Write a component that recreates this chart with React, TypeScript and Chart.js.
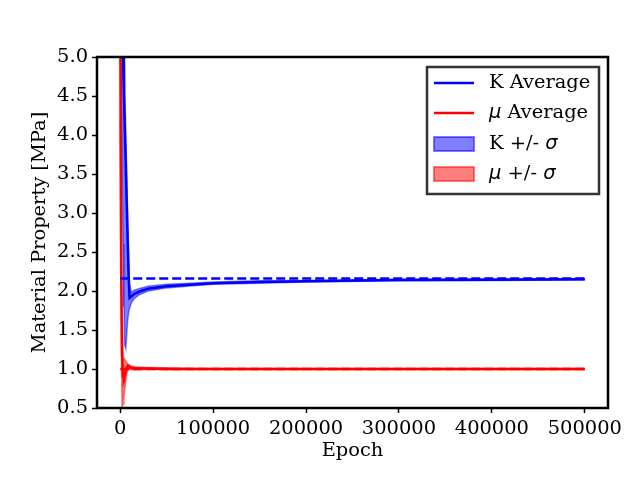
import { Chart, registerables } from "chart.js";
import type { ChartConfiguration, Plugin } from "chart.js";
import React from "react";

Chart.register(...registerables);

// epochs sampled from the curves
const epochs = [
  0, 1000, 2000, 3000, 4000, 5000, 6000, 7000, 8000, 9000, 10000, 12000, 15000,
  20000, 30000, 50000, 75000, 100000, 150000, 200000, 300000, 400000, 500000,
];

const kMean = [
  6.8, 6.0, 5.4, 5.0, 4.5, 4.05, 3.6, 3.1, 2.65, 2.2, 1.91, 1.93, 1.96, 1.99,
  2.03, 2.06, 2.08, 2.1, 2.115, 2.125, 2.14, 2.145, 2.15,
];
const kUpper = [
  8.0, 7.2, 6.5, 5.8, 5.1, 4.6, 4.0, 3.5, 3.0, 2.5, 2.1, 1.98, 2.01, 2.03,
  2.06, 2.085, 2.1, 2.115, 2.13, 2.135, 2.15, 2.155, 2.16,
];
const kLower = [
  5.6, 4.6, 3.6, 2.6, 1.8, 1.3, 1.26, 1.45, 1.62, 1.72, 1.78, 1.85, 1.9, 1.95,
  2.0, 2.04, 2.065, 2.085, 2.1, 2.115, 2.13, 2.135, 2.14,
];

const muMean = [
  5.6, 2.3, 1.2, 0.9, 0.88, 0.93, 0.98, 1.02, 1.04, 1.035, 1.025, 1.015, 1.01,
  1.005, 1.005, 1.0, 1.0, 1.0, 1.0, 1.0, 1.0, 1.0, 1.0,
];
const muUpper = [
  7.0, 3.2, 1.6, 1.15, 1.14, 1.12, 1.1, 1.08, 1.07, 1.06, 1.05, 1.04, 1.03,
  1.025, 1.02, 1.015, 1.01, 1.008, 1.005, 1.005, 1.005, 1.005, 1.005,
];
const muLower = [
  4.2, 1.4, 0.5, 0.55, 0.65, 0.75, 0.85, 0.93, 0.98, 0.99, 0.995, 0.99, 0.99,
  0.99, 0.995, 0.995, 0.995, 0.995, 0.995, 0.995, 0.995, 0.995, 0.995,
];

// reference (true) values
const kTrue = 2.16;
const muTrue = 1.0;
const refEpochs = [0, 500000];

const xTicks = [0, 100000, 200000, 300000, 400000, 500000];

const SERIF = "'DejaVu Serif', serif";
const FS = 19.44;
const BLUE = "#0000ff";
const RED = "#ff0000";
const BLUE_A = "rgba(0,0,255,0.5)";
const RED_A = "rgba(255,0,0,0.5)";

const pts = (ys: number[], xs = epochs) => ys.map((y, i) => ({ x: xs[i], y }));

// matplotlib-like frame and legend
const framePlugin: Plugin<"line"> = {
  id: "frame",
  afterDraw(chart) {
    const { ctx, chartArea: a } = chart;
    ctx.save();
    ctx.strokeStyle = "#000";
    ctx.lineWidth = 2.5;
    ctx.strokeRect(a.left, a.top, a.right - a.left, a.bottom - a.top);

    // legend
    const bx = 427, by = 67, bw = 172, bh = 127;
    ctx.fillStyle = "rgba(255,255,255,0.8)";
    ctx.fillRect(bx, by, bw, bh);
    ctx.strokeStyle = "#333";
    ctx.lineWidth = 2.5;
    ctx.strokeRect(bx, by, bw, bh);

    const rows: { y: number; kind: "line" | "patch"; c: string; a: string; parts: [string, boolean][] }[] = [
      { y: 83, kind: "line", c: BLUE, a: BLUE_A, parts: [["K Average", false]] },
      { y: 113, kind: "line", c: RED, a: RED_A, parts: [["\u03bc", true], [" Average", false]] },
      { y: 144, kind: "patch", c: BLUE, a: BLUE_A, parts: [["K +/- ", false], ["\u03c3", true]] },
      { y: 174, kind: "patch", c: RED, a: RED_A, parts: [["\u03bc", true], [" +/- ", false], ["\u03c3", true]] },
    ];
    ctx.textBaseline = "middle";
    for (const r of rows) {
      if (r.kind === "line") {
        ctx.strokeStyle = r.c;
        ctx.lineWidth = 2.5;
        ctx.beginPath();
        ctx.moveTo(434, r.y);
        ctx.lineTo(474, r.y);
        ctx.stroke();
      } else {
        ctx.fillStyle = r.a;
        ctx.fillRect(434, r.y - 7, 40, 14);
        ctx.strokeStyle = r.a;
        ctx.lineWidth = 2;
        ctx.strokeRect(434, r.y - 7, 40, 14);
      }
      let tx = 489;
      ctx.fillStyle = "#000";
      for (const [s, it] of r.parts) {
        ctx.font = it ? `italic ${FS}px 'DejaVu Sans'` : `${FS}px ${SERIF}`;
        ctx.fillText(s, tx, r.y);
        tx += ctx.measureText(s).width;
      }
    }
    ctx.restore();
  },
};

export default function App() {
  const canvasRef = React.useRef<HTMLCanvasElement>(null);

  React.useEffect(() => {
    if (!canvasRef.current) return;
    const line = { pointRadius: 0, tension: 0, fill: false as const };
    const config: ChartConfiguration<"line"> = {
      type: "line",
      data: {
        datasets: [
          { ...line, label: "mu true", data: pts([muTrue, muTrue], refEpochs), borderColor: RED, borderWidth: 2.5, borderDash: [9, 4] },
          { ...line, label: "K true", data: pts([kTrue, kTrue], refEpochs), borderColor: BLUE, borderWidth: 2.5, borderDash: [9, 4] },
          { ...line, label: "mu Average", data: pts(muMean), borderColor: RED, borderWidth: 2.5 },
          { ...line, label: "K Average", data: pts(kMean), borderColor: BLUE, borderWidth: 2.5 },
          { ...line, label: "mu upper", data: pts(muUpper), borderColor: RED_A, borderWidth: 1.5, fill: "+1", backgroundColor: RED_A },
          { ...line, label: "mu lower", data: pts(muLower), borderColor: RED_A, borderWidth: 1.5 },
          { ...line, label: "K upper", data: pts(kUpper), borderColor: BLUE_A, borderWidth: 1.5, fill: "+1", backgroundColor: BLUE_A },
          { ...line, label: "K lower", data: pts(kLower), borderColor: BLUE_A, borderWidth: 1.5 },
        ],
      },
      options: {
        animation: false,
        responsive: true,
        maintainAspectRatio: false,
        layout: { padding: { top: 57, right: 32, left: 0, bottom: 0 } },
        plugins: { legend: { display: false }, tooltip: { enabled: false } },
        scales: {
          x: {
            type: "linear",
            min: -25000,
            max: 525000,
            afterBuildTicks: (s) => {
              s.ticks = xTicks.map((v) => ({ value: v }));
            },
            afterFit: (s) => {
              s.height = 72;
            },
            grid: { drawOnChartArea: false, drawTicks: true, tickLength: 5, tickWidth: 1.5, tickColor: "#000" },
            border: { display: false },
            ticks: { color: "#000", font: { family: SERIF, size: FS }, padding: 4, maxRotation: 0, callback: (v) => String(v) },
            title: { display: true, text: "Epoch", color: "#000", font: { family: SERIF, size: FS }, padding: { top: 2, bottom: 17 } },
          },
          y: {
            type: "linear",
            min: 0.5,
            max: 5.0,
            afterFit: (s) => {
              s.width = 97;
            },
            grid: { drawOnChartArea: false, drawTicks: true, tickLength: 5, tickWidth: 1.5, tickColor: "#000" },
            border: { display: false },
            ticks: { stepSize: 0.5, color: "#000", font: { family: SERIF, size: FS }, padding: 4, callback: (v) => Number(v).toFixed(1) },
            title: { display: true, text: "Material Property [MPa]", color: "#000", font: { family: SERIF, size: FS }, padding: { top: 28, bottom: 0 } },
          },
        },
      },
      plugins: [framePlugin],
    };
    const chart = new Chart(canvasRef.current, config);
    return () => chart.destroy();
  }, []);

  return (
    <div style={{ position: "fixed", left: 0, top: 0, width: 640, height: 480, background: "#fff" }}>
      <canvas ref={canvasRef} />
    </div>
  );
}
